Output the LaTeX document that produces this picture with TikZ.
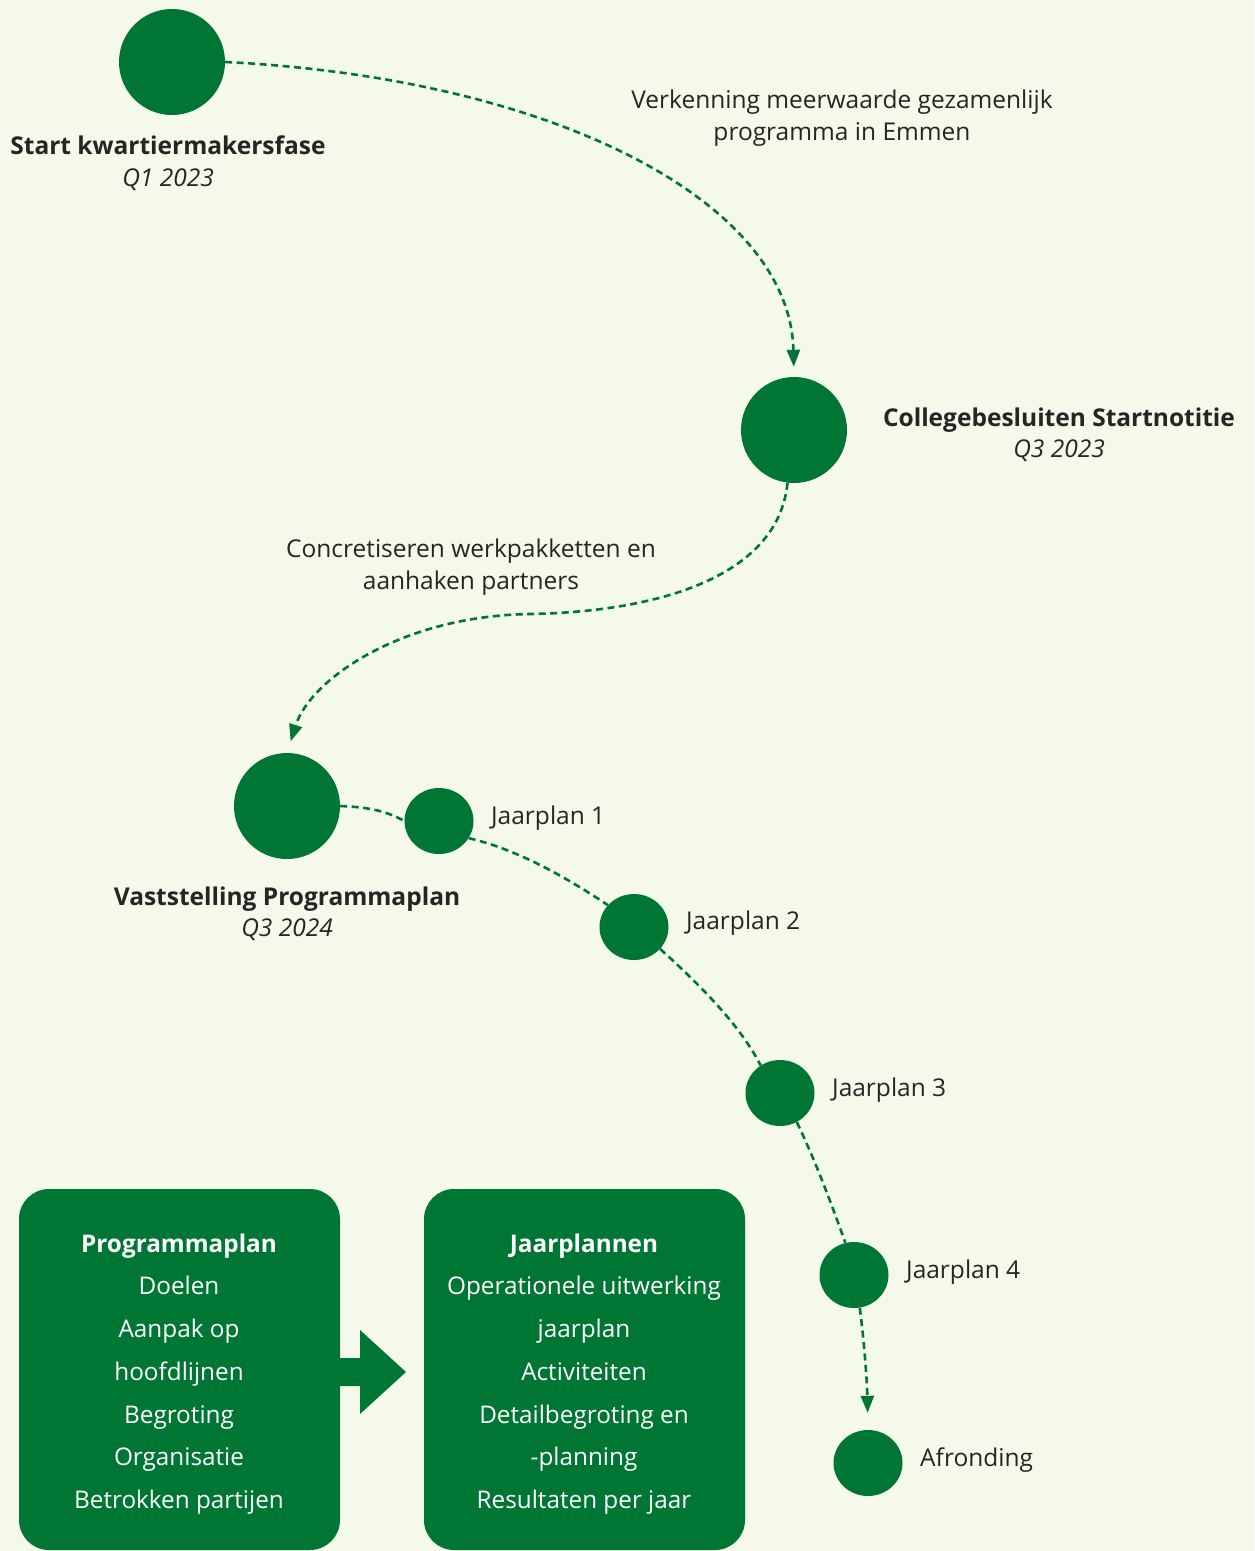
\documentclass[tikz,border=0pt]{standalone}
\usepackage{fontspec}
\setmainfont{Open Sans}
\usetikzlibrary{arrows.meta,shapes.geometric}
\definecolor{bg}{HTML}{F4F9EA}
\definecolor{dgreen}{HTML}{007635}
\definecolor{ink}{HTML}{262425}

\begin{document}
\begin{tikzpicture}[x=1pt,y=-1pt,
  milestone/.style={circle,fill=dgreen,minimum size=106pt,inner sep=0pt},
  yearplan/.style={ellipse,fill=dgreen,minimum width=69pt,minimum height=66pt,inner sep=0pt},
  flow/.style={dgreen,line width=2.6pt,dash pattern=on 7pt off 4.5pt},
  tip/.style={-{Triangle[length=17pt,width=13pt]}},
  lbl/.style={text=ink,font=\fontsize{24.5}{31.5}\selectfont,align=center,inner sep=0pt},
  side/.style={text=ink,font=\fontsize{24.5}{31.5}\selectfont,anchor=west,inner sep=0pt},
  panel/.style={fill=dgreen,rounded corners=30pt},
  paneltext/.style={text=white,font=\fontsize{24.3}{42.7}\selectfont,align=center,inner sep=0pt}
]
% canvas
\fill[bg] (0,0) rectangle (1254,1551);
\useasboundingbox (0,0) rectangle (1254,1551);

% milestones
\node[milestone] (m1) at (172,62) {};
\node[milestone] (m2) at (794,430) {};
\node[milestone] (m3) at (287,806) {};

% yearly plans
\node[yearplan] (j1) at (439,821) {};
\node[yearplan] (j2) at (634,927) {};
\node[yearplan] (j3) at (780,1093) {};
\node[yearplan] (j4) at (854,1275) {};
\node[yearplan] (af) at (868,1463) {};

% milestone labels
\node[lbl] (t1) at (168,163) {\textbf{Start kwartiermakersfase}\\\textit{Q1 2023}};
\node[lbl] (t2) at (1059,435) {\textbf{Collegebesluiten Startnotitie}\\\textit{Q3 2023}};
\node[lbl] (t3) at (287,914) {\textbf{Vaststelling Programmaplan}\\\textit{Q3 2024}};

% phase descriptions
\node[lbl] (d1) at (842,118) {Verkenning meerwaarde gezamenlijk\\programma in Emmen};
\node[lbl] (d2) at (471,567) {Concretiseren werkpakketten en\\aanhaken partners};

% yearly plan labels
\node[side] (l1) at (491,818) {Jaarplan 1};
\node[side] (l2) at (686,923) {Jaarplan 2};
\node[side] (l3) at (832,1090) {Jaarplan 3};
\node[side] (l4) at (906,1272) {Jaarplan 4};
\node[side] (l5) at (920,1460) {Afronding};

% connectors
\draw[flow,tip,shorten >=10pt] (m1.east) .. controls (550,78) and (790,200) .. (m2.north);
\draw[flow,tip,shorten >=12pt] (m2.-97) .. controls (778,580) and (650,612) .. (530,614)
  .. controls (400,616) and (310,680) .. (m3.north);
\draw[flow] (m3.east) .. controls (365,807) and (385,810) .. (j1.west);
\draw[flow] (j1.-30) .. controls (520,850) and (570,880) .. (j2.140);
\draw[flow] (j2.-40) .. controls (700,985) and (740,1025) .. (j3.125);
\draw[flow] (j3.-60) .. controls (815,1160) and (830,1200) .. (j4.105);
\draw[flow,tip,shorten >=17pt] (j4.-80) .. controls (864,1340) and (867,1380) .. (af.north);

% summary panels
\fill[panel] (19,1189) rectangle (340,1550);
\fill[panel] (424,1189) rectangle (745,1550);
\fill[dgreen] (338,1358) -- (360,1358) -- (360,1330) -- (406,1372) -- (360,1414)
  -- (360,1386) -- (338,1386) -- cycle;
\node[paneltext] (p1) at (179,1374) {\textbf{Programmaplan}\\Doelen\\Aanpak op\\hoofdlijnen\\Begroting\\Organisatie\\Betrokken partijen};
\node[paneltext] (p2) at (584,1374) {\textbf{Jaarplannen}\\Operationele uitwerking\\jaarplan\\Activiteiten\\Detailbegroting en\\-planning\\Resultaten per jaar};
\end{tikzpicture}
\end{document}
